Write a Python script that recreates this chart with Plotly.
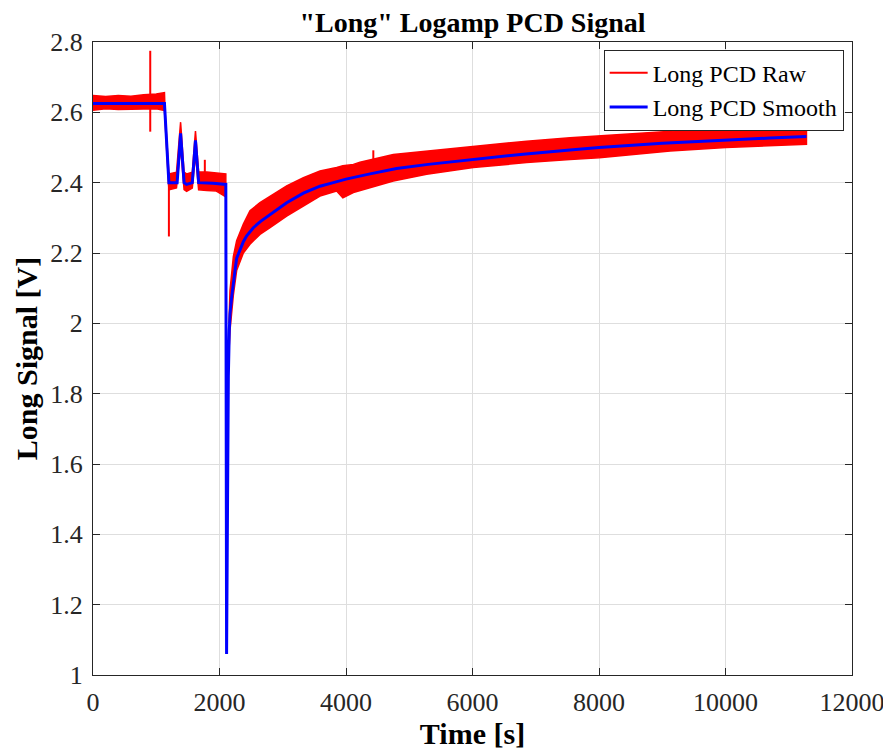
import plotly.graph_objects as go

# ---------------- data ----------------
smooth_t = [0, 1130, 1200, 1330, 1385, 1440, 1480, 1570, 1620, 1670, 1900, 2100,
            2112, 2125, 2140, 2155, 2166, 2192, 2219, 2245, 2271, 2324, 2377, 2430,
            2535, 2650, 2799, 3062, 3326, 3589, 3800, 4000, 4380, 4800, 5300, 6000,
            6800, 7541, 8000, 9000, 10000, 10700, 11280]
smooth_v = [2.625, 2.625, 2.400, 2.400, 2.540, 2.400, 2.395, 2.400, 2.520, 2.400, 2.398, 2.395,
            1.060, 1.550, 1.850, 1.980, 2.027, 2.074, 2.121, 2.150, 2.185, 2.210, 2.232, 2.249,
            2.272, 2.290, 2.310, 2.343, 2.370, 2.390, 2.400, 2.410, 2.425, 2.440, 2.452, 2.466,
            2.481, 2.493, 2.500, 2.512, 2.522, 2.527, 2.531]

# raw signal: envelope of the noisy band, before the dip
rawA_t = [0, 200, 400, 600, 800, 1000, 1130, 1140, 1200, 1320, 1385, 1440, 1480,
          1570, 1620, 1670, 1800, 1950, 2100]
rawA_hi = [2.648, 2.645, 2.648, 2.646, 2.650, 2.652, 2.656, 2.600, 2.425, 2.430, 2.572, 2.430, 2.425,
           2.430, 2.547, 2.430, 2.430, 2.428, 2.425]
rawA_lo = [2.606, 2.610, 2.608, 2.610, 2.609, 2.610, 2.605, 2.550, 2.380, 2.385, 2.500, 2.380, 2.375,
           2.385, 2.480, 2.380, 2.378, 2.376, 2.360]

# raw signal: envelope of the noisy band, recovery after the dip
rawB_t = [2150, 2166, 2219, 2271, 2377, 2482, 2640, 2799, 3062, 3326, 3589, 3852, 3950,
          4116, 4221, 4748, 5275, 6013, 6856, 7541, 8005, 9125, 10008, 10800, 11280]
rawB_hi = [2.000, 2.093, 2.190, 2.235, 2.282, 2.320, 2.343, 2.362, 2.391, 2.414, 2.433, 2.443, 2.448,
           2.452, 2.458, 2.480, 2.490, 2.504, 2.518, 2.528, 2.533, 2.547, 2.556, 2.561, 2.556]
rawB_lo = [1.920, 1.980, 2.080, 2.150, 2.200, 2.225, 2.253, 2.272, 2.305, 2.334, 2.362, 2.376, 2.357,
           2.372, 2.376, 2.405, 2.424, 2.443, 2.457, 2.466, 2.471, 2.490, 2.500, 2.505, 2.509]

# isolated spikes in the raw signal
spike_t = [905, 1200, 1768, 4432]
spike_lo = [2.545, 2.247, 2.400, 2.440]
spike_hi = [2.775, 2.430, 2.465, 2.492]

x_ticks = [0, 2000, 4000, 6000, 8000, 10000, 12000]
x_ticklabels = ["0", "2000", "4000", "6000", "8000", "10000", "12000"]
y_ticks = [1, 1.2, 1.4, 1.6, 1.8, 2, 2.2, 2.4, 2.6, 2.8]
y_ticklabels = ["1", "1.2", "1.4", "1.6", "1.8", "2", "2.2", "2.4", "2.6", "2.8"]

# ---------------- figure ----------------
RED = "#ff0000"
BLUE = "#0000ff"
SERIF = "Liberation Serif, Times New Roman, serif"

fig = go.Figure()

for t, hi, lo in [(rawA_t, rawA_hi, rawA_lo), (rawB_t, rawB_hi, rawB_lo)]:
    fig.add_trace(go.Scatter(
        x=t + t[::-1], y=hi + lo[::-1], mode="lines", fill="toself",
        fillcolor=RED, line=dict(color=RED, width=1.5), showlegend=False,
        hoverinfo="skip"))

sx, sy = [], []
for t, lo, hi in zip(spike_t, spike_lo, spike_hi):
    sx += [t, t, None]
    sy += [lo, hi, None]
fig.add_trace(go.Scatter(x=sx, y=sy, mode="lines", line=dict(color=RED, width=2),
                         showlegend=False, hoverinfo="skip"))

# legend entry for raw
fig.add_trace(go.Scatter(x=[None], y=[None], mode="lines", name="Long PCD Raw",
                         line=dict(color=RED, width=2)))

fig.add_trace(go.Scatter(x=smooth_t, y=smooth_v, mode="lines", name="Long PCD Smooth",
                         line=dict(color=BLUE, width=3)))

axis_common = dict(
    showline=True, linecolor="#262626", linewidth=1, mirror="ticks",
    ticks="inside", ticklen=7, tickcolor="#262626",
    showgrid=True, gridcolor="#dedede", gridwidth=1, zeroline=False,
    tickfont=dict(family=SERIF, size=26, color="#262626"),
)

# page body has an 8px default margin, so the figure is sized to fit the window
fig.update_layout(
    width=883, height=748,
    paper_bgcolor="white", plot_bgcolor="white",
    margin=dict(l=85, r=39, t=34, b=81, autoexpand=False),
    title=dict(text='<b>"Long" Logamp PCD Signal</b>', xref="paper", x=0.5, xanchor="center",
               yref="container", y=1.0, yanchor="top", pad=dict(t=4, b=0),
               font=dict(family=SERIF, size=28, color="black")),
    xaxis=dict(range=[0, 12000], tickvals=x_ticks, ticktext=x_ticklabels,
               ticklabelstandoff=4,
               title=dict(text="<b>Time [s]</b>", font=dict(family=SERIF, size=30, color="black"),
                          standoff=0),
               **axis_common),
    yaxis=dict(range=[1, 2.8], tickvals=y_ticks, ticktext=y_ticklabels,
               ticklabelstandoff=4,
               title=dict(text="<b>Long Signal [V]</b>", font=dict(family=SERIF, size=30, color="black"),
                          standoff=3),
               **axis_common),
    legend=dict(x=0.989, xanchor="right", y=0.988, yanchor="top",
                bgcolor="white", bordercolor="#262626", borderwidth=1,
                font=dict(family=SERIF, size=24, color="black"),
                tracegroupgap=0, itemwidth=38),
    showlegend=True,
)

fig.write_html("out.html")
